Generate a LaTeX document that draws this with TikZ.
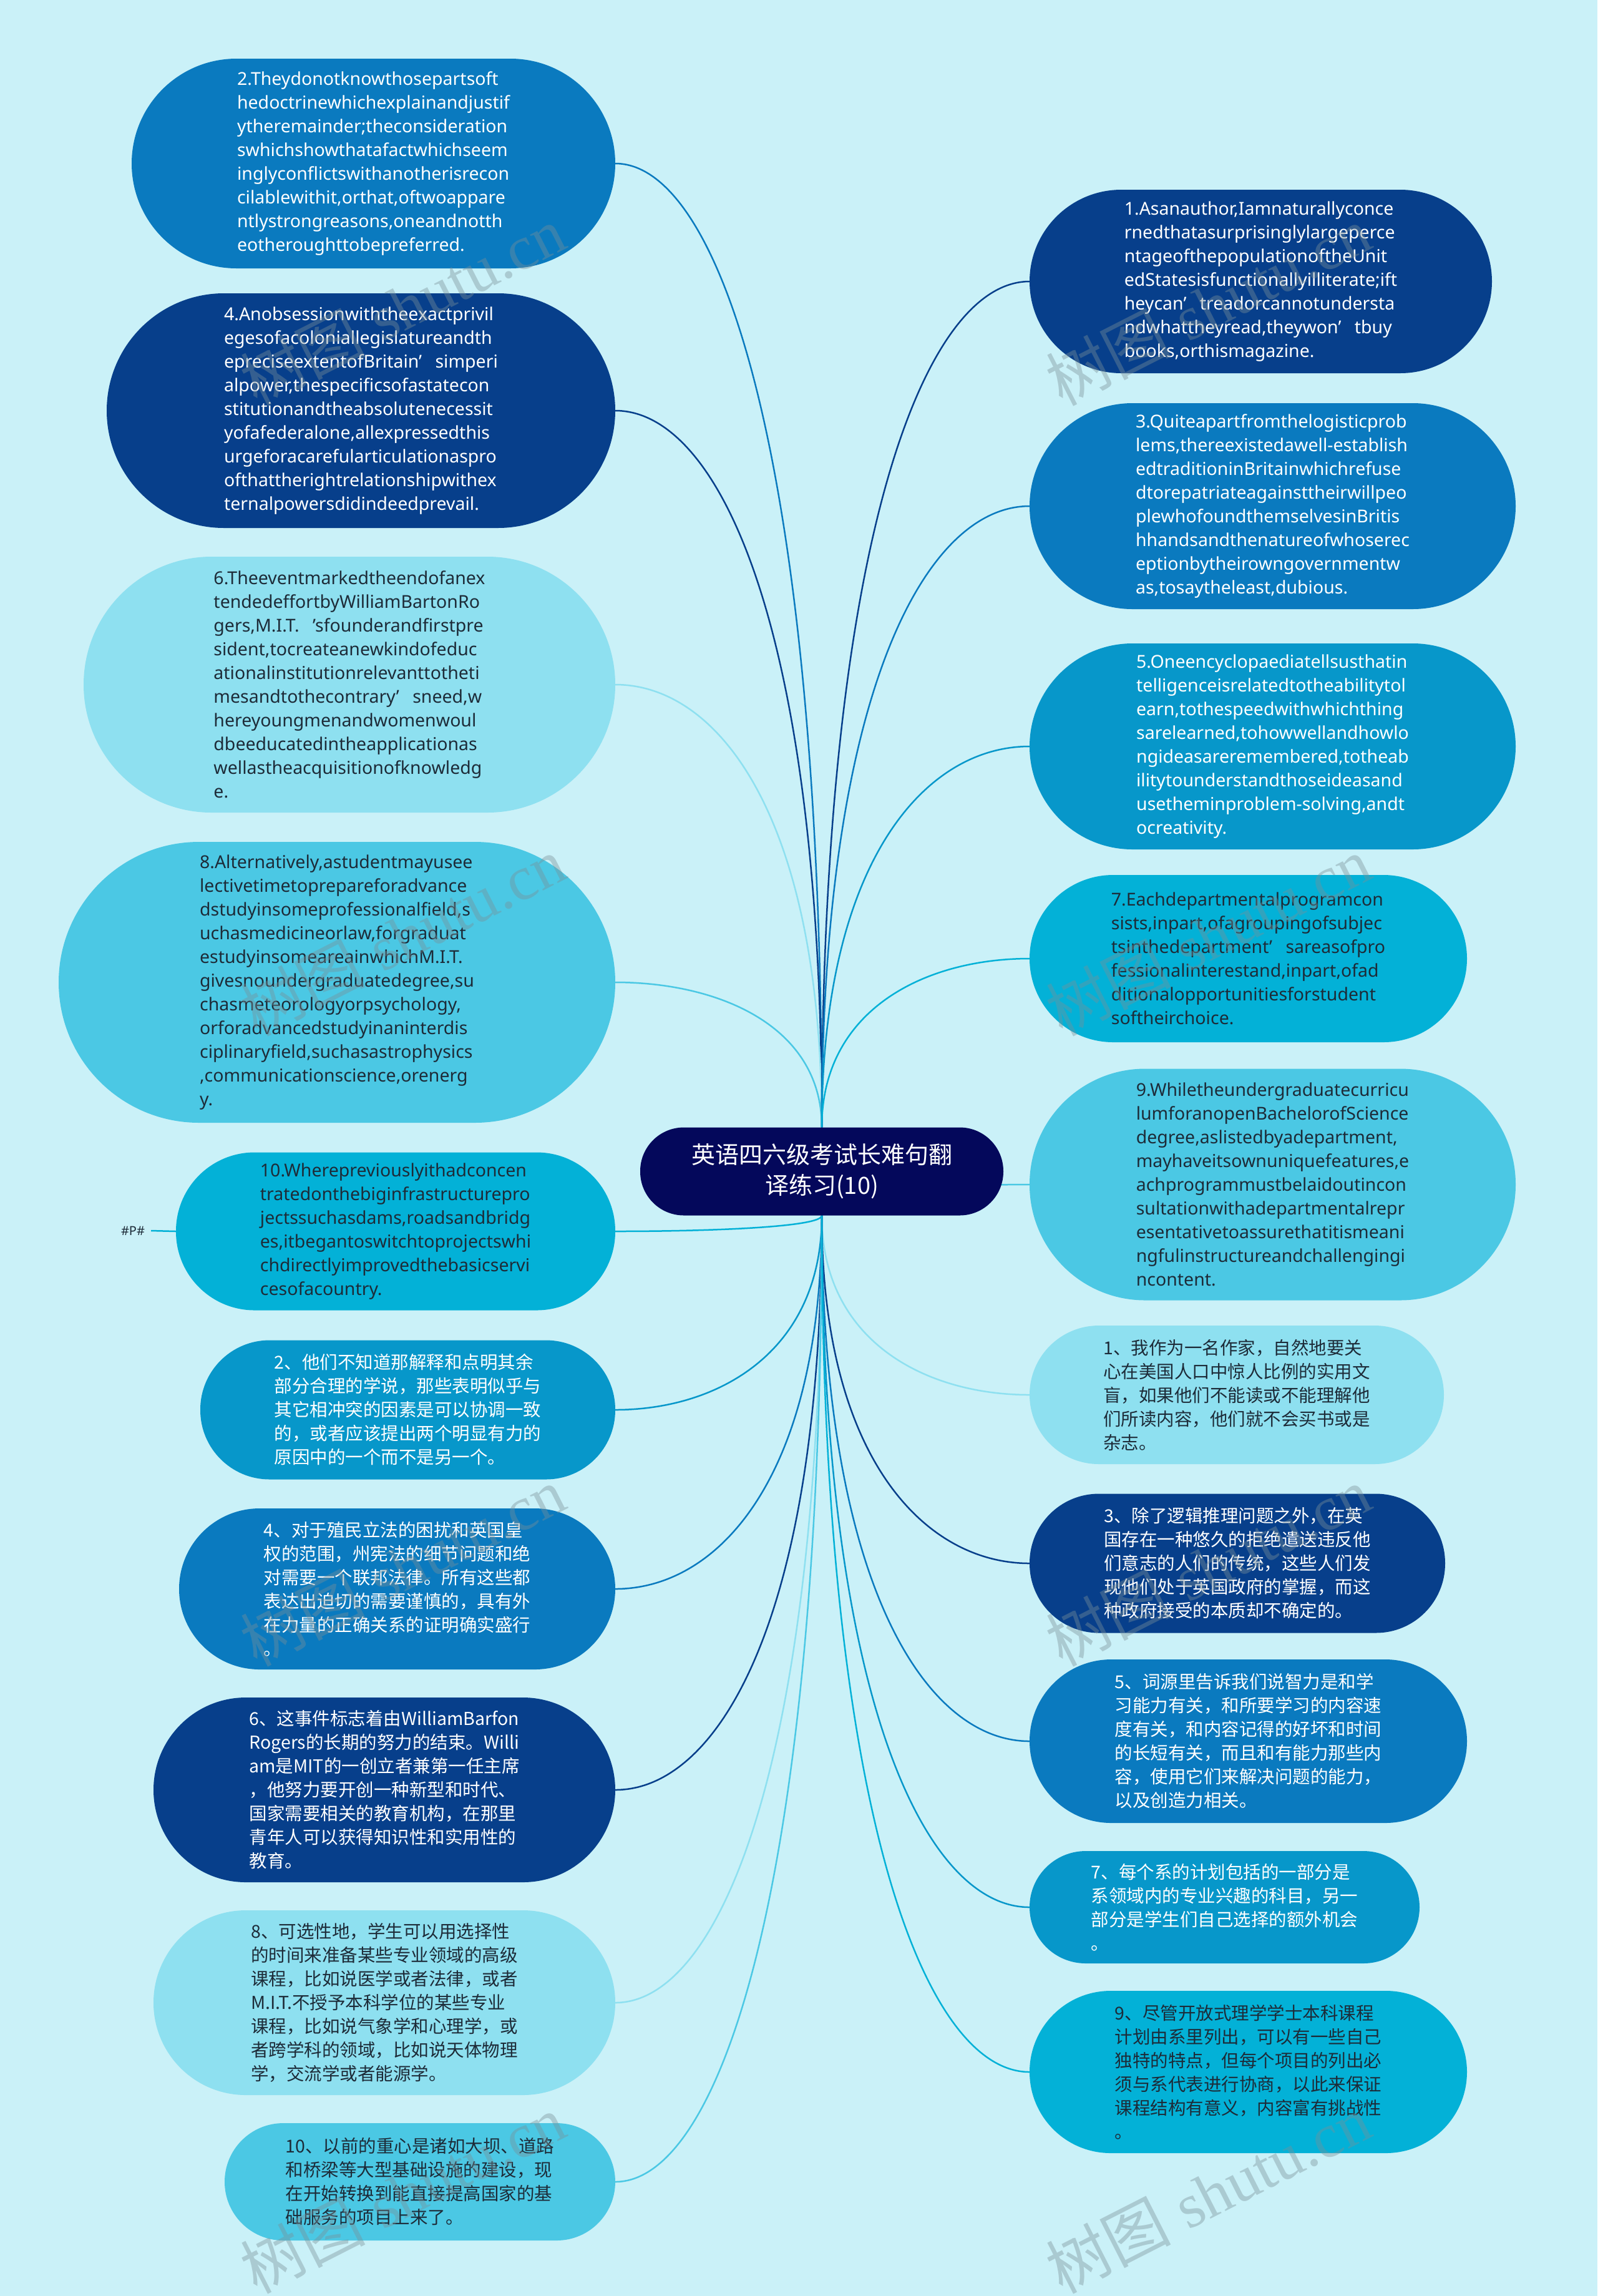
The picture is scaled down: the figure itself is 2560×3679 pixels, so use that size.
\documentclass[tikz,border=0pt]{standalone}
\usepackage{fontspec}
\setmainfont{Noto Sans}
\newfontfamily\cjk{Noto Sans CJK SC}
\newfontfamily\wmserif{Liberation Serif}
\usetikzlibrary{calc}
\definecolor{bgc}{HTML}{CAF1F8}
\definecolor{cA}{HTML}{0A7ABF}
\definecolor{cB}{HTML}{073F8B}
\definecolor{cC}{HTML}{8EE0F0}
\definecolor{cD}{HTML}{4BC8E4}
\definecolor{cE}{HTML}{03B1D7}
\definecolor{cF}{HTML}{0797CA}
\definecolor{cMain}{HTML}{04085B}
\definecolor{dtext}{HTML}{1D2B38}
\definecolor{wm}{HTML}{7A9098}
\pgfdeclarelayer{bgfill}
\pgfdeclarelayer{background}
\pgfsetlayers{bgfill,background,main}
\newcommand\qa{’\hspace{0.75em}}
\newcommand\qb{\hspace{0.75em}’}
\newcommand\conn[3]{\draw[line width=2.5pt,#3] (#1) .. controls ($(#1)!0.5!(#1-|#2)$) and ($(#2|-#1)!0.3!(#2)$) .. (#2);}
\tikzset{
  bubble/.style={inner sep=0pt, align=left, font=\fontsize{28.5}{38}\selectfont},
  cnbubble/.style={inner sep=0pt, align=left, font=\cjk\fontsize{28.5}{38}\selectfont},
  wmark/.style={rotate=27, text=wm, text opacity=0.4, inner sep=0pt, font=\fontsize{100}{100}\selectfont}
}
\begin{document}
\begin{tikzpicture}[x=1pt,y=-1pt]
\begin{pgfonlayer}{bgfill}
\fill[bgc] (0,0) rectangle (2560,3679);
\end{pgfonlayer}
\useasboundingbox (0,0) rectangle (2560,3679);

% center
\node[inner sep=0pt, fill=cMain, text=white, align=center, minimum width=582pt, minimum height=141pt, rounded corners=70pt, font=\cjk\fontsize{38}{49}\selectfont] (C) at (1317,1877) {英语四六级考试长难句翻\\译练习(10)};
\coordinate (ctop) at (C.north);
\coordinate (cbot) at (C.south);

% left column
\node[bubble, fill=cA, text=white, minimum width=775pt, minimum height=336pt, rounded corners=168pt] (L1) at (598.5,262) {2.Theydonotknowthosepartsoft\\hedoctrinewhichexplainandjustif\\ytheremainder;theconsideration\\swhichshowthatafactwhichseem\\inglyconflictswithanotherisrecon\\cilablewithit,orthat,oftwoappare\\ntlystrongreasons,oneandnotth\\eotheroughttobepreferred.};
\node[bubble, fill=cB, text=white, minimum width=815pt, minimum height=376pt, rounded corners=188pt] (L2) at (578.5,658) {4.Anobsessionwiththeexactprivil\\egesofacoloniallegislatureandth\\epreciseextentofBritain\qa simperi\\alpower,thespecificsofastatecon\\stitutionandtheabsolutenecessit\\yofafederalone,allexpressedthis\\urgeforacarefularticulationaspro\\ofthattherightrelationshipwithex\\ternalpowersdidindeedprevail.};
\node[bubble, fill=cC, text=dtext, minimum width=852pt, minimum height=410pt, rounded corners=205pt] (L3) at (560,1097) {6.Theeventmarkedtheendofanex\\tendedeffortbyWilliamBartonRo\\gers,M.I.T.\qb sfounderandfirstpre\\sident,tocreateanewkindofeduc\\ationalinstitutionrelevanttotheti\\mesandtothecontrary\qa sneed,w\\hereyoungmenandwomenwoul\\dbeeducatedintheapplicationas\\wellastheacquisitionofknowledg\\e.};
\node[bubble, fill=cD, text=dtext, minimum width=892pt, minimum height=450pt, rounded corners=225pt] (L4) at (540,1574) {8.Alternatively,astudentmayusee\\lectivetimetoprepareforadvance\\dstudyinsomeprofessionalfield,s\\uchasmedicineorlaw,forgraduat\\estudyinsomeareainwhichM.I.T.\\givesnoundergraduatedegree,su\\chasmeteorologyorpsychology,\\orforadvancedstudyinaninterdis\\ciplinaryfield,suchasastrophysics\\,communicationscience,orenerg\\y.};
\node[bubble, fill=cE, text=dtext, minimum width=704pt, minimum height=253pt, rounded corners=126pt] (L5) at (634,1973) {10.Wherepreviouslyithadconcen\\tratedonthebiginfrastructurepro\\jectssuchasdams,roadsandbridg\\es,itbegantoswitchtoprojectswhi\\chdirectlyimprovedthebasicservi\\cesofacountry.};
\node[cnbubble, fill=cF, text=white, minimum width=665pt, minimum height=223pt, rounded corners=111pt] (L6) at (653.5,2259) {2、他们不知道那解释和点明其余\\部分合理的学说，那些表明似乎与\\其它相冲突的因素是可以协调一致\\的，或者应该提出两个明显有力的\\原因中的一个而不是另一个。};
\node[cnbubble, fill=cA, text=white, minimum width=699pt, minimum height=258pt, rounded corners=129pt] (L7) at (636.5,2546) {4、对于殖民立法的困扰和英国皇\\权的范围，州宪法的细节问题和绝\\对需要一个联邦法律。所有这些都\\表达出迫切的需要谨慎的，具有外\\在力量的正确关系的证明确实盛行\\。};
\node[cnbubble, fill=cB, text=white, minimum width=740pt, minimum height=296pt, rounded corners=148pt] (L8) at (616,2868) {6、这事件标志着由WilliamBarfon\\Rogers的长期的努力的结束。Willi\\am是MIT的一创立者兼第一任主席\\，他努力要开创一种新型和时代、\\国家需要相关的教育机构，在那里\\青年人可以获得知识性和实用性的\\教育。};
\node[cnbubble, fill=cC, text=dtext, minimum width=740pt, minimum height=296pt, rounded corners=148pt] (L9) at (616,3209) {8、可选性地，学生可以用选择性\\的时间来准备某些专业领域的高级\\课程，比如说医学或者法律，或者\\M.I.T.不授予本科学位的某些专业\\课程，比如说气象学和心理学，或\\者跨学科的领域，比如说天体物理\\学，交流学或者能源学。};
\node[cnbubble, fill=cD, text=dtext, minimum width=626pt, minimum height=188pt, rounded corners=94pt] (L10) at (673,3496) {10、以前的重心是诸如大坝、道路\\和桥梁等大型基础设施的建设，现\\在开始转换到能直接提高国家的基\\础服务的项目上来了。};

% right column
\node[bubble, fill=cB, text=white, minimum width=741pt, minimum height=294pt, rounded corners=147pt] (R1) at (2020.5,451) {1.Asanauthor,Iamnaturallyconce\\rnedthatasurprisinglylargeperce\\ntageofthepopulationoftheUnit\\edStatesisfunctionallyilliterate;ift\\heycan\qa treadorcannotundersta\\ndwhattheyread,theywon\qa tbuy\\books,orthismagazine.};
\node[bubble, fill=cA, text=white, minimum width=779pt, minimum height=330pt, rounded corners=165pt] (R2) at (2039.5,811) {3.Quiteapartfromthelogisticprob\\lems,thereexistedawell-establish\\edtraditioninBritainwhichrefuse\\dtorepatriateagainsttheirwillpeo\\plewhofoundthemselvesinBritis\\hhandsandthenatureofwhoserec\\eptionbytheirowngovernmentw\\as,tosaytheleast,dubious.};
\node[bubble, fill=cF, text=white, minimum width=779pt, minimum height=330pt, rounded corners=165pt] (R3) at (2039.5,1196) {5.Oneencyclopaediatellsusthatin\\telligenceisrelatedtotheabilitytol\\earn,tothespeedwithwhichthing\\sarelearned,tohowwellandhowlo\\ngideasareremembered,totheab\\ilitytounderstandthoseideasand\\usetheminproblem-solving,andt\\ocreativity.};
\node[bubble, fill=cE, text=dtext, minimum width=701pt, minimum height=268pt, rounded corners=134pt] (R4) at (2000.5,1536) {7.Eachdepartmentalprogramcon\\sists,inpart,ofagroupingofsubjec\\tsinthedepartment\qa sareasofpro\\fessionalinterestand,inpart,ofad\\ditionalopportunitiesforstudent\\softheirchoice.};
\node[bubble, fill=cD, text=dtext, minimum width=779pt, minimum height=371pt, rounded corners=185pt] (R5) at (2039.5,1898) {9.Whiletheundergraduatecurricu\\lumforanopenBachelorofScience\\degree,aslistedbyadepartment,\\mayhaveitsownuniquefeatures,e\\achprogrammustbelaidoutincon\\sultationwithadepartmentalrepr\\esentativetoassurethatitismeani\\ngfulinstructureandchallengingi\\ncontent.};
\node[cnbubble, fill=cC, text=dtext, minimum width=664pt, minimum height=222pt, rounded corners=111pt] (R6) at (1982,2235) {1、我作为一名作家，自然地要关\\心在美国人口中惊人比例的实用文\\盲，如果他们不能读或不能理解他\\们所读内容，他们就不会买书或是\\杂志。};
\node[cnbubble, fill=cB, text=white, minimum width=666pt, minimum height=223pt, rounded corners=111pt] (R7) at (1983,2505) {3、除了逻辑推理问题之外，在英\\国存在一种悠久的拒绝遣送违反他\\们意志的人们的传统，这些人们发\\现他们处于英国政府的掌握，而这\\种政府接受的本质却不确定的。};
\node[cnbubble, fill=cA, text=white, minimum width=701pt, minimum height=262pt, rounded corners=131pt] (R8) at (2000.5,2790) {5、词源里告诉我们说智力是和学\\习能力有关，和所要学习的内容速\\度有关，和内容记得的好坏和时间\\的长短有关，而且和有能力那些内\\容，使用它们来解决问题的能力，\\以及创造力相关。};
\node[cnbubble, fill=cF, text=white, minimum width=625pt, minimum height=180pt, rounded corners=90pt] (R9) at (1962.5,3056) {7、每个系的计划包括的一部分是\\系领域内的专业兴趣的科目，另一\\部分是学生们自己选择的额外机会\\。};
\node[cnbubble, fill=cE, text=dtext, minimum width=701pt, minimum height=260pt, rounded corners=130pt] (R10) at (2000.5,3320) {9、尽管开放式理学学士本科课程\\计划由系里列出，可以有一些自己\\独特的特点，但每个项目的列出必\\须与系代表进行协商，以此来保证\\课程结构有意义，内容富有挑战性\\。};

% #P# label
\node[inner sep=0pt, text=dtext, font=\fontsize{20}{20}\selectfont] (P) at (213,1972) {\#P\#};

% connectors
\begin{pgfonlayer}{background}
\conn{L1.east}{ctop}{cA}
\conn{L2.east}{ctop}{cB}
\conn{L3.east}{ctop}{cC}
\conn{L4.east}{ctop}{cD}
\conn{L5.east}{cbot}{cE}
\conn{L6.east}{cbot}{cF}
\conn{L7.east}{cbot}{cA}
\conn{L8.east}{cbot}{cB}
\conn{L9.east}{cbot}{cC}
\conn{L10.east}{cbot}{cD}
\conn{R1.west}{ctop}{cB}
\conn{R2.west}{ctop}{cA}
\conn{R3.west}{ctop}{cF}
\conn{R4.west}{ctop}{cE}
\conn{R5.west}{cbot}{cD}
\conn{R6.west}{cbot}{cC}
\conn{R7.west}{cbot}{cB}
\conn{R8.west}{cbot}{cA}
\conn{R9.west}{cbot}{cF}
\conn{R10.west}{cbot}{cE}
\draw[line width=2.5pt, cE] (P.east) ++(10,0) coordinate (pstart) -- (L5.west);
\end{pgfonlayer}

% watermarks
\foreach \wy in {490,1500,2510,3515} {
  \node[wmark] at (645,\wy) {{\cjk 树图} {\wmserif shutu.cn}};
  \node[wmark] at (1936,\wy) {{\cjk 树图} {\wmserif shutu.cn}};
}
\end{tikzpicture}
\end{document}
